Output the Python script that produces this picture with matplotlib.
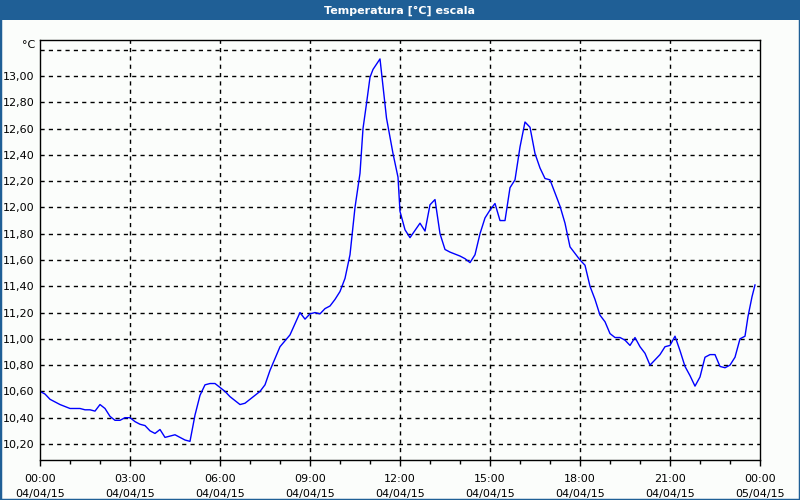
import matplotlib
matplotlib.use("Agg")
import matplotlib.pyplot as plt
from matplotlib.patches import Rectangle
from matplotlib.ticker import FixedLocator, FuncFormatter, MultipleLocator

# minutes since 04/04/15 00:00
minutes = [0, 10, 20, 40, 60, 80, 90, 100, 110, 120, 130, 140, 150, 160, 170,
           180, 190, 200, 210, 220, 230, 240, 250, 260, 270, 280, 290, 300,
           310, 320, 330, 340, 350, 360, 370, 380, 390, 400, 410, 420, 430,
           440, 450, 460, 480, 500, 513, 520, 530, 540, 550, 560, 570, 580,
           590, 600, 610, 620, 630, 640, 646, 653, 660, 666, 680, 686, 693,
           706, 716, 720, 730, 740, 760, 770, 780, 790, 800, 810, 820, 840,
           850, 860, 870, 880, 890, 900, 910, 920, 930, 940, 950, 960, 970,
           980, 990, 1000, 1010, 1020, 1030, 1040, 1050, 1060, 1070, 1080,
           1090, 1100, 1110, 1120, 1130, 1140, 1150, 1160, 1170, 1180, 1190,
           1200, 1210, 1220, 1230, 1240, 1250, 1260, 1270, 1280, 1290, 1300,
           1310, 1320, 1330, 1340, 1350, 1360, 1370, 1380, 1390, 1400, 1410,
           1416, 1424, 1430]
temps = [10.60, 10.58, 10.54, 10.50, 10.47, 10.47, 10.46, 10.46, 10.45, 10.50,
         10.47, 10.41, 10.38, 10.38, 10.40, 10.40, 10.37, 10.35, 10.34, 10.30,
         10.28, 10.31, 10.25, 10.26, 10.27, 10.25, 10.23, 10.22, 10.42, 10.57,
         10.65, 10.66, 10.66, 10.63, 10.60, 10.56, 10.53, 10.50, 10.51, 10.54,
         10.57, 10.60, 10.65, 10.76, 10.94, 11.03, 11.14, 11.20, 11.15, 11.19,
         11.20, 11.19, 11.23, 11.25, 11.30, 11.36, 11.46, 11.64, 12.00, 12.26,
         12.60, 12.79, 12.99, 13.05, 13.13, 12.92, 12.68, 12.41, 12.23, 11.97,
         11.83, 11.77, 11.88, 11.82, 12.02, 12.06, 11.80, 11.68, 11.66, 11.63,
         11.61, 11.58, 11.64, 11.80, 11.92, 11.98, 12.03, 11.90, 11.90, 12.15,
         12.21, 12.46, 12.65, 12.61, 12.41, 12.30, 12.22, 12.21, 12.11, 12.01,
         11.88, 11.70, 11.65, 11.60, 11.56, 11.40, 11.30, 11.18, 11.13, 11.04,
         11.01, 11.01, 10.99, 10.95, 11.01, 10.94, 10.89, 10.80, 10.84, 10.88,
         10.94, 10.95, 11.02, 10.91, 10.79, 10.72, 10.64, 10.71, 10.86, 10.88,
         10.88, 10.79, 10.78, 10.80, 10.86, 11.00, 11.02, 11.17, 11.32, 11.41]

tick_hours = [0, 3, 6, 9, 12, 15, 18, 21, 24]
tick_labels = ["00:00\n04/04/15", "03:00\n04/04/15", "06:00\n04/04/15",
               "09:00\n04/04/15", "12:00\n04/04/15", "15:00\n04/04/15",
               "18:00\n04/04/15", "21:00\n04/04/15", "00:00\n05/04/15"]
y_ticks = [10.2, 10.4, 10.6, 10.8, 11.0, 11.2, 11.4, 11.6, 11.8, 12.0,
           12.2, 12.4, 12.6, 12.8, 13.0]

bg = "#fbfdfb"
bar_blue = "#1f5f96"

hours = [m / 60 for m in minutes]

fig = plt.figure(figsize=(8, 5), dpi=100, facecolor=bg)
ax = fig.add_axes([0.05, 0.08, 0.90, 0.84], facecolor=bg)

ax.plot(hours, temps, color="#0000ff", lw=1)

ax.set_xlim(0, 24)
ax.set_ylim(10.078, 13.274)

ax.xaxis.set_major_locator(FixedLocator(tick_hours))
ax.set_xticklabels(tick_labels)
ax.xaxis.set_minor_locator(MultipleLocator(1))
ax.set_yticks(y_ticks)
ax.yaxis.set_major_formatter(FuncFormatter(lambda v, p: f"{v:.2f}".replace(".", ",")))

# grid lines: every 0.2 incl. 13.20 (unlabelled), every 3 h
for v in y_ticks + [13.2]:
    ax.axhline(v, color="black", lw=1, ls=(0, (3, 3)), zorder=0.5)
for h in tick_hours[1:-1]:
    ax.axvline(h, color="black", lw=1, ls=(0, (3, 3)), zorder=0.5)

ax.tick_params(axis="x", which="major", direction="out", length=4, width=1,
               labelsize=8, pad=6, colors="black")
ax.tick_params(axis="x", which="minor", direction="out", length=3, width=1)
ax.tick_params(axis="y", length=0, labelsize=8, pad=4)
for lbl in ax.get_xticklabels():
    lbl.set_linespacing(1.6)

for s in ax.spines.values():
    s.set_color("black")
    s.set_linewidth(1)

ax.text(-0.006, 13.235, "°C", transform=ax.get_yaxis_transform(),
        ha="right", va="center", fontsize=8)

# title bar and frame
fig.patches.append(Rectangle((0, 0.96), 1, 0.04, transform=fig.transFigure,
                             facecolor=bar_blue, edgecolor="none", zorder=0))
fig.patches.append(Rectangle((0, 0), 1, 1, transform=fig.transFigure,
                             facecolor="none", edgecolor=bar_blue, lw=2.5, zorder=5))
fig.text(0.5, 0.979, "Temperatura [°C] escala", color="white",
         fontsize=8, fontweight="bold", ha="center", va="center")

fig.savefig("out.png", dpi=100, facecolor=bg)
